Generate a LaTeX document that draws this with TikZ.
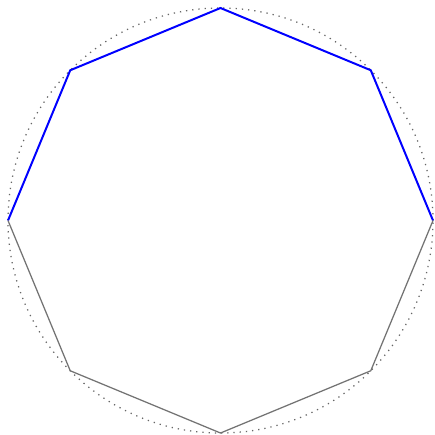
\documentclass[tikz,border=0pt]{standalone}
\usetikzlibrary{positioning}

\begin{document}
\begin{tikzpicture}[
 rim/.style={gray!80!black,dotted,line width=.5pt},
 upper/.style={blue,line width=.8pt},
 lower/.style={gray!90!black,line width=.5pt}
]
\useasboundingbox[fill=white] (-3.113,-3.028) rectangle (3.014,3.113);

% Circle and its vertices.
\node[circle,minimum size=6cm,inner sep=0pt] (ring) at (0,0) {};
\draw[rim] (ring.center) circle (3cm);
\foreach \k in {0,...,7} {
  \coordinate (v\k) at (\k*45:3cm);
}

% Upper half in blue, lower half plain.
\draw[upper] (v0)--(v1)--(v2)--(v3)--(v4);
\draw[lower] (v4)--(v5)--(v6)--(v7)--(v0);
\end{tikzpicture}
\end{document}
